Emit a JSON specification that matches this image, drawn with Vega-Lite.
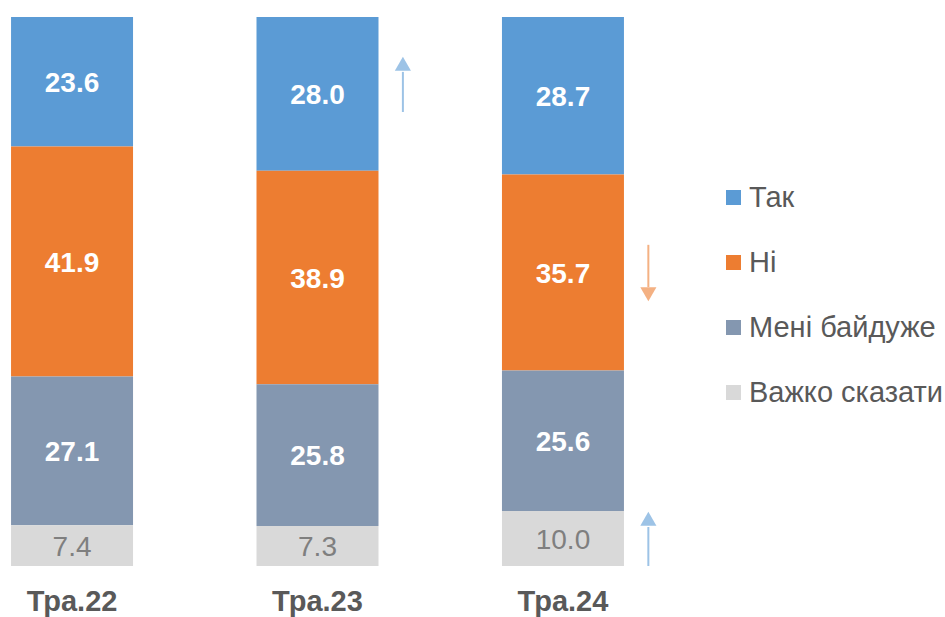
{
  "$schema": "https://vega.github.io/schema/vega-lite/v6.json",
  "autosize": {"type": "none"},
  "padding": {"left": 0, "top": 17, "right": 310, "bottom": 51},
  "width": 635,
  "height": 549,
  "background": "white",
  "config": {"view": {"stroke": null}, "font": "Liberation Sans"},
  "datasets": {
    "main": [
      {"m": "Тра.22", "c": "Так", "k": 4, "v": 23.6},
      {"m": "Тра.22", "c": "Ні", "k": 3, "v": 41.9},
      {"m": "Тра.22", "c": "Мені байдуже", "k": 2, "v": 27.1},
      {"m": "Тра.22", "c": "Важко сказати", "k": 1, "v": 7.4},
      {"m": "Тра.23", "c": "Так", "k": 4, "v": 28.0},
      {"m": "Тра.23", "c": "Ні", "k": 3, "v": 38.9},
      {"m": "Тра.23", "c": "Мені байдуже", "k": 2, "v": 25.8},
      {"m": "Тра.23", "c": "Важко сказати", "k": 1, "v": 7.3},
      {"m": "Тра.24", "c": "Так", "k": 4, "v": 28.7},
      {"m": "Тра.24", "c": "Ні", "k": 3, "v": 35.7},
      {"m": "Тра.24", "c": "Мені байдуже", "k": 2, "v": 25.6},
      {"m": "Тра.24", "c": "Важко сказати", "k": 1, "v": 10.0}
    ],
    "arrows": [
      {"m": "Тра.23", "d": "up", "a": 82.7, "b": 90.0, "h": 91.5},
      {"m": "Тра.24", "d": "down", "a": 58.5, "b": 50.8, "h": 49.5},
      {"m": "Тра.24", "d": "up", "a": 0, "b": 7.1, "h": 8.6}
    ]
  },
  "layer": [
    {
      "data": {"name": "main"},
      "mark": {"type": "bar"},
      "encoding": {
        "x": {"field": "m", "type": "nominal", "sort": null,
              "scale": {"paddingInner": 0.503, "paddingOuter": 0.045},
              "axis": {"title": null, "labelAngle": 0, "domain": false, "ticks": false,
                       "labelFontSize": 29, "labelFontWeight": "bold", "labelColor": "#595959",
                       "labelPadding": 21}},
        "y": {"field": "v", "type": "quantitative", "stack": "zero",
              "scale": {"domain": [0, 100], "nice": false, "zero": true}, "axis": null},
        "order": {"field": "k", "type": "quantitative", "sort": "ascending"},
        "color": {"field": "c", "type": "nominal",
                  "scale": {"domain": ["Так", "Ні", "Мені байдуже", "Важко сказати"],
                            "range": ["#5B9BD5", "#ED7D31", "#8497B0", "#D9D9D9"]},
                  "legend": {"orient": "none", "legendX": 719, "legendY": 166, "title": null,
                             "symbolType": "square", "symbolSize": 225, "symbolStrokeWidth": 0,
                             "labelFontSize": 29, "labelColor": "#595959", "labelOffset": 1,
                             "rowPadding": 35, "padding": 0, "labelLimit": 400}}
      }
    },
    {
      "data": {"name": "main"},
      "mark": {"type": "text", "fontSize": 28, "fontWeight": "bold", "baseline": "middle", "align": "center", "dy": 2},
      "encoding": {
        "x": {"field": "m", "type": "nominal", "sort": null},
        "y": {"field": "v", "type": "quantitative", "stack": "zero", "bandPosition": 0.5},
        "order": {"field": "k", "type": "quantitative", "sort": "ascending"},
        "detail": {"field": "c"},
        "text": {"field": "v", "type": "quantitative", "format": ".1f"},
        "color": {"value": "white"},
        "opacity": {"condition": {"test": "datum.c === 'Важко сказати'", "value": 0}, "value": 1}
      }
    },
    {
      "data": {"name": "main"},
      "mark": {"type": "text", "fontSize": 28, "fontWeight": "normal", "baseline": "middle", "align": "center", "dy": 2},
      "encoding": {
        "x": {"field": "m", "type": "nominal", "sort": null},
        "y": {"field": "v", "type": "quantitative", "stack": "zero", "bandPosition": 0.5},
        "order": {"field": "k", "type": "quantitative", "sort": "ascending"},
        "detail": {"field": "c"},
        "text": {"field": "v", "type": "quantitative", "format": ".1f"},
        "color": {"value": "#7F7F7F"},
        "opacity": {"condition": {"test": "datum.c === 'Важко сказати'", "value": 1}, "value": 0}
      }
    },
    {
      "data": {"name": "arrows"},
      "mark": {"type": "rule", "strokeWidth": 2},
      "encoding": {
        "x": {"field": "m", "type": "nominal", "sort": null, "bandPosition": 1.2},
        "y": {"field": "a", "type": "quantitative"},
        "y2": {"field": "b"},
        "color": {"condition": {"test": "datum.d === 'down'", "value": "#F4B183"}, "value": "#9DC3E6"}
      }
    },
    {
      "data": {"name": "arrows"},
      "mark": {"type": "point", "filled": true, "size": 260, "opacity": 1, "strokeWidth": 0},
      "encoding": {
        "x": {"field": "m", "type": "nominal", "sort": null, "bandPosition": 1.2},
        "y": {"field": "h", "type": "quantitative"},
        "shape": {"field": "d", "type": "nominal",
                  "scale": {"domain": ["up", "down"], "range": ["triangle-up", "triangle-down"]},
                  "legend": null},
        "color": {"condition": {"test": "datum.d === 'down'", "value": "#F4B183"}, "value": "#9DC3E6"}
      }
    }
  ]
}
